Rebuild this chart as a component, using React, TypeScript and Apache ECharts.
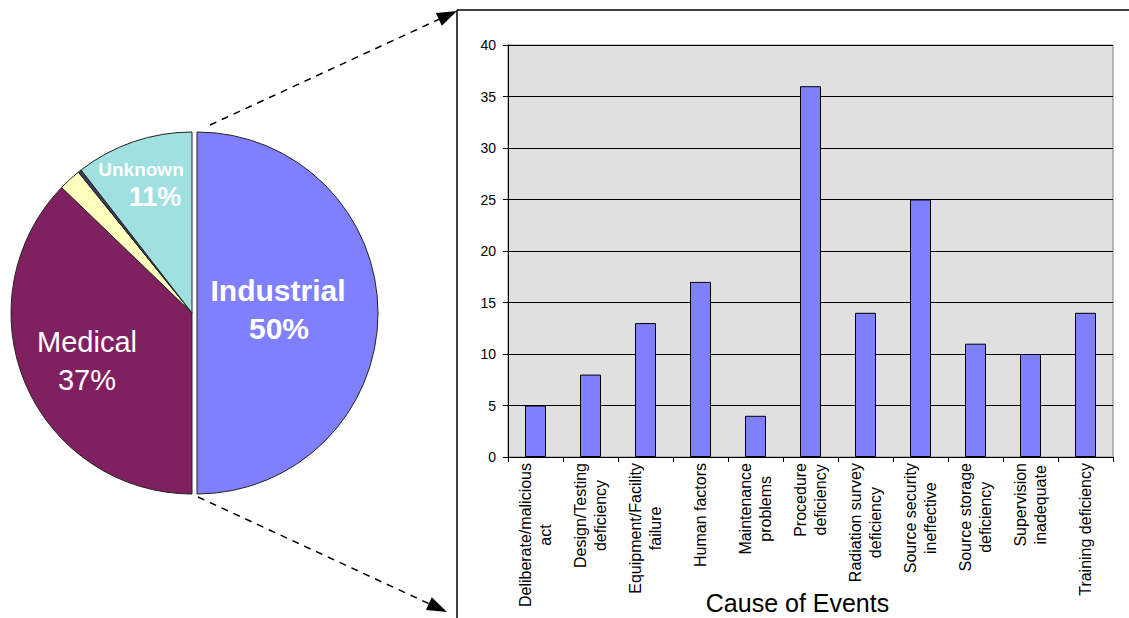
import React, { useEffect, useRef } from "react";
import * as echarts from "echarts";

const FONT = "'Liberation Sans', Arial, sans-serif";

const pieNames = ["Industrial", "Medical", "Other A", "Other B", "Unknown"];
const pieValues = [50, 37.2, 2.0, 0.3, 10.5];
const pieColors = ["#8080FF", "#802060", "#FFFFC0", "#3a3a5a", "#A0E0E0"];

const causeCategories = [
  "Deliberate/malicious\nact",
  "Design/Testing\ndeficiency",
  "Equipment/Facility\nfailure",
  "Human factors",
  "Maintenance\nproblems",
  "Procedure\ndeficiency",
  "Radiation survey\ndeficiency",
  "Source security\nineffective",
  "Source storage\ndeficiency",
  "Supervision\ninadequate",
  "Training deficiency",
];
const causeValues = [5, 8, 13, 17, 4, 36, 14, 25, 11, 10, 14];

export default function App() {
  const ref = useRef<HTMLDivElement>(null);
  useEffect(() => {
    document.body.style.margin = "0";
    const chart = echarts.init(ref.current!, null, { renderer: "svg" });
    const pieData = pieNames.map((n, i) => ({
      name: n,
      value: pieValues[i],
      selected: i === 0,
      itemStyle: { color: pieColors[i] },
      select: { itemStyle: { color: pieColors[i], borderColor: "#222", borderWidth: 1 } },
    }));
    const arrowHead = (tip: number[], from: number[], len: number, hw: number) => {
      const dx = tip[0] - from[0];
      const dy = tip[1] - from[1];
      const L = Math.hypot(dx, dy);
      const ux = dx / L, uy = dy / L;
      const bx = tip[0] - ux * len, by = tip[1] - uy * len;
      const px = -uy, py = ux;
      return {
        base: [bx, by],
        pts: [tip, [bx + px * hw, by + py * hw], [bx - px * hw, by - py * hw]],
      };
    };
    const a1 = arrowHead([457, 11], [210, 125], 20, 7);
    const a2 = arrowHead([447, 612], [198, 497], 20, 7);
    const white = "#ffffff";
    const label = (x: number, y: number, text: string, size: number, bold: boolean) => ({
      type: "text",
      x,
      y,
      z: 100,
      zlevel: 1,
      style: {
        text,
        fill: white,
        fontSize: size,
        fontWeight: bold ? "bold" : "normal",
        fontFamily: FONT,
        align: "center",
        verticalAlign: "middle",
      },
    });
    chart.setOption({
      animation: false,
      textStyle: { fontFamily: FONT },
      grid: {
        left: 508,
        top: 45,
        width: 605,
        height: 412,
        show: true,
        backgroundColor: "#E0E0E0",
        borderColor: "#808080",
        borderWidth: 1,
        outerBoundsMode: "none",
        containLabel: false,
      },
      xAxis: {
        type: "category",
        data: causeCategories,
        name: "Cause of Events",
        nameLocation: "middle",
        nameGap: 133,
        nameMoveOverlap: false,
        nameTextStyle: { fontSize: 25, color: "#000", fontFamily: FONT, padding: [0, 26, 0, 0] },
        axisLine: { lineStyle: { color: "#000", width: 1 } },
        axisTick: { show: true, length: 5, lineStyle: { color: "#000" } },
        axisLabel: {
          interval: 0,
          rotate: 90,
          margin: 6,
          color: "#000",
          formatter: (v: string) => v.split("\n").map((s) => `{c|${s}}`).join("\n"),
          rich: {
            c: { align: "center", fontSize: 16, lineHeight: 20, color: "#000", fontFamily: FONT },
          },
        },
      },
      yAxis: {
        type: "value",
        min: 0,
        max: 40,
        interval: 5,
        axisLine: { show: true, lineStyle: { color: "#000", width: 1 } },
        axisTick: { show: true, length: 5, lineStyle: { color: "#000" } },
        axisLabel: { fontSize: 14, color: "#000", margin: 12, fontFamily: FONT },
        splitLine: { lineStyle: { color: "#000", width: 1 } },
      },
      series: [
        {
          type: "bar",
          data: causeValues,
          barWidth: 21,
          itemStyle: { color: "#8080FF", borderColor: "#000", borderWidth: 1 },
          silent: true,
        },
        {
          type: "pie",
          center: [192, 313],
          radius: 181,
          startAngle: 90,
          clockwise: true,
          selectedMode: "single",
          selectedOffset: 5,
          label: { show: false },
          labelLine: { show: false },
          itemStyle: { borderColor: "#222", borderWidth: 1 },
          emphasis: { disabled: true },
          silent: true,
          data: pieData,
        },
      ],
      graphic: [
        { type: "line", shape: { x1: 457, y1: 10, x2: 457, y2: 618 }, style: { stroke: "#000", lineWidth: 1.5 } },
        { type: "line", shape: { x1: 457, y1: 10, x2: 1129, y2: 10 }, style: { stroke: "#000", lineWidth: 1.5 } },
        {
          type: "line",
          shape: { x1: 210, y1: 125, x2: a1.base[0], y2: a1.base[1] },
          style: { stroke: "#000", lineWidth: 1.5, lineDash: [7, 6] },
        },
        { type: "polygon", shape: { points: a1.pts }, style: { fill: "#000" } },
        {
          type: "line",
          shape: { x1: 198, y1: 497, x2: a2.base[0], y2: a2.base[1] },
          style: { stroke: "#000", lineWidth: 1.5, lineDash: [7, 6] },
        },
        { type: "polygon", shape: { points: a2.pts }, style: { fill: "#000" } },
        label(278, 290, "Industrial", 30, true),
        label(279, 328, "50%", 30, true),
        label(87, 342, "Medical", 29, false),
        label(87, 380, "37%", 29, false),
        label(141, 169, "Unknown", 19, true),
        label(155, 197, "11%", 27, true),
      ],
    });
    return () => chart.dispose();
  }, []);
  return <div ref={ref} style={{ width: 1129, height: 618 }} />;
}
